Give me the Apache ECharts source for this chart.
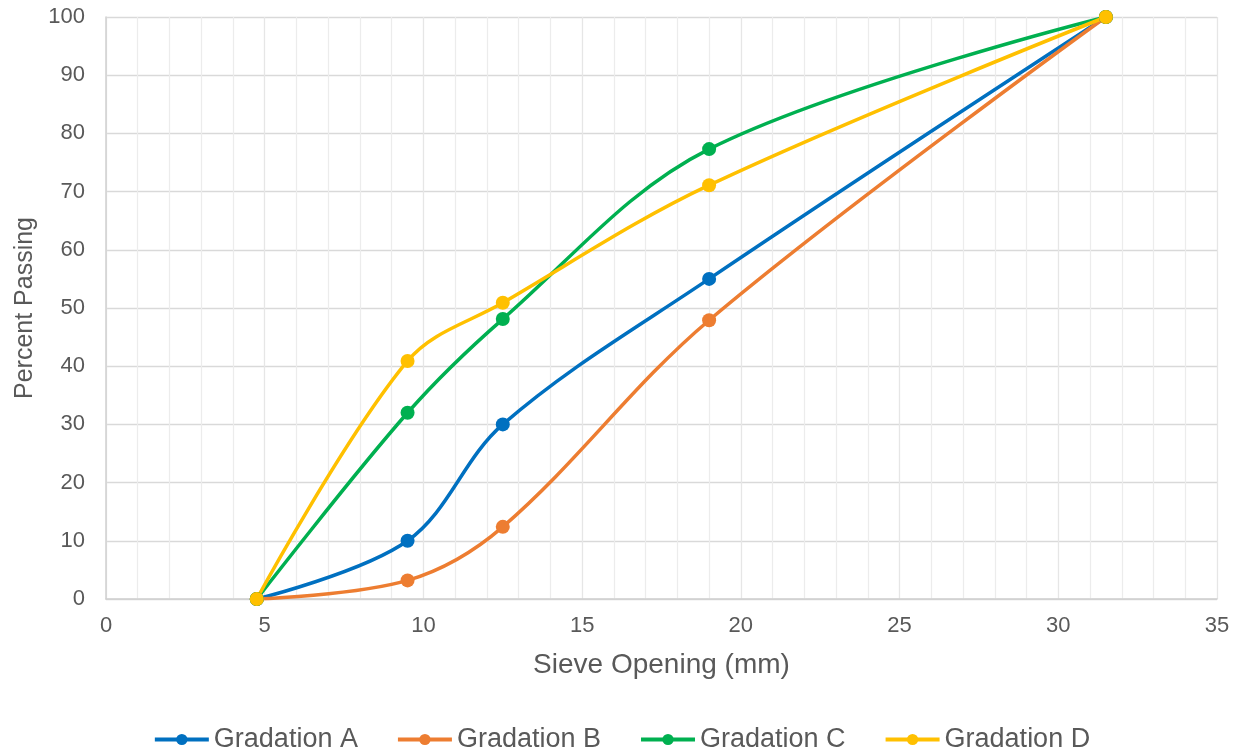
<!DOCTYPE html>
<html>
<head>
<meta charset="utf-8">
<script src="https://cdn.jsdelivr.net/npm/echarts@6/dist/echarts.min.js"></script>
<style>html,body{margin:0;padding:0;background:#fff;}#c{width:1243px;height:750px;}</style>
</head>
<body>
<div id="c"></div>
<script>
const sieve = [4.75, 9.5, 12.5, 19, 31.5];
const gradA = [0, 10, 30, 55, 100];
const gradB = [0, 3.2, 12.4, 47.9, 100];
const gradC = [0, 32, 48.1, 77.3, 100];
const gradD = [0, 40.9, 50.9, 71.1, 100];
const seriesNames = ['Gradation A', 'Gradation B', 'Gradation C', 'Gradation D'];
const seriesColors = ['#0070C0', '#ED7D31', '#00B050', '#FFC000'];
const allValues = [gradA, gradB, gradC, gradD];

const chart = echarts.init(document.getElementById('c'));
const font = 'Liberation Sans, Arial, sans-serif';
chart.setOption({
  animation: false,
  grid: {left: 106, right: 26, top: 17, bottom: 151},
  legend: {
    top: 721, left: 'center', itemWidth: 54, itemHeight: 14, itemGap: 38,
    lineStyle: {width: 4},
    textStyle: {color: '#595959', fontSize: 27, fontFamily: font},
    data: seriesNames
  },
  xAxis: {
    type: 'value', min: 0, max: 35, interval: 5,
    name: 'Sieve Opening (mm)', nameLocation: 'middle', nameGap: 52,
    nameTextStyle: {color: '#595959', fontSize: 28, fontFamily: font},
    axisLine: {show: true, lineStyle: {color: '#d0d0d0', width: 1.5}},
    axisTick: {show: false},
    axisLabel: {color: '#595959', fontSize: 22, fontFamily: font, margin: 16},
    splitLine: {show: true, lineStyle: {color: '#e6e6e6', width: 1.3}},
    minorTick: {show: false, splitNumber: 5},
    minorSplitLine: {show: true, lineStyle: {color: '#ececec', width: 1.2}}
  },
  yAxis: {
    type: 'value', min: 0, max: 100, interval: 10,
    name: 'Percent Passing', nameLocation: 'middle', nameGap: 67,
    nameTextStyle: {color: '#595959', fontSize: 25, fontFamily: font},
    axisLine: {show: true, lineStyle: {color: '#d0d0d0', width: 1.5}},
    axisTick: {show: false},
    axisLabel: {color: '#595959', fontSize: 22, fontFamily: font, margin: 21},
    splitLine: {show: true, lineStyle: {color: '#d9d9d9', width: 1.3}}
  },
  series: seriesNames.map((n, i) => ({
    name: n, type: 'line', smooth: 0.35,
    data: sieve.map((x, j) => [x, allValues[i][j]]),
    symbol: 'circle', symbolSize: 14,
    lineStyle: {color: seriesColors[i], width: 3.5},
    itemStyle: {color: seriesColors[i]}
  }))
});
</script>
</body>
</html>
